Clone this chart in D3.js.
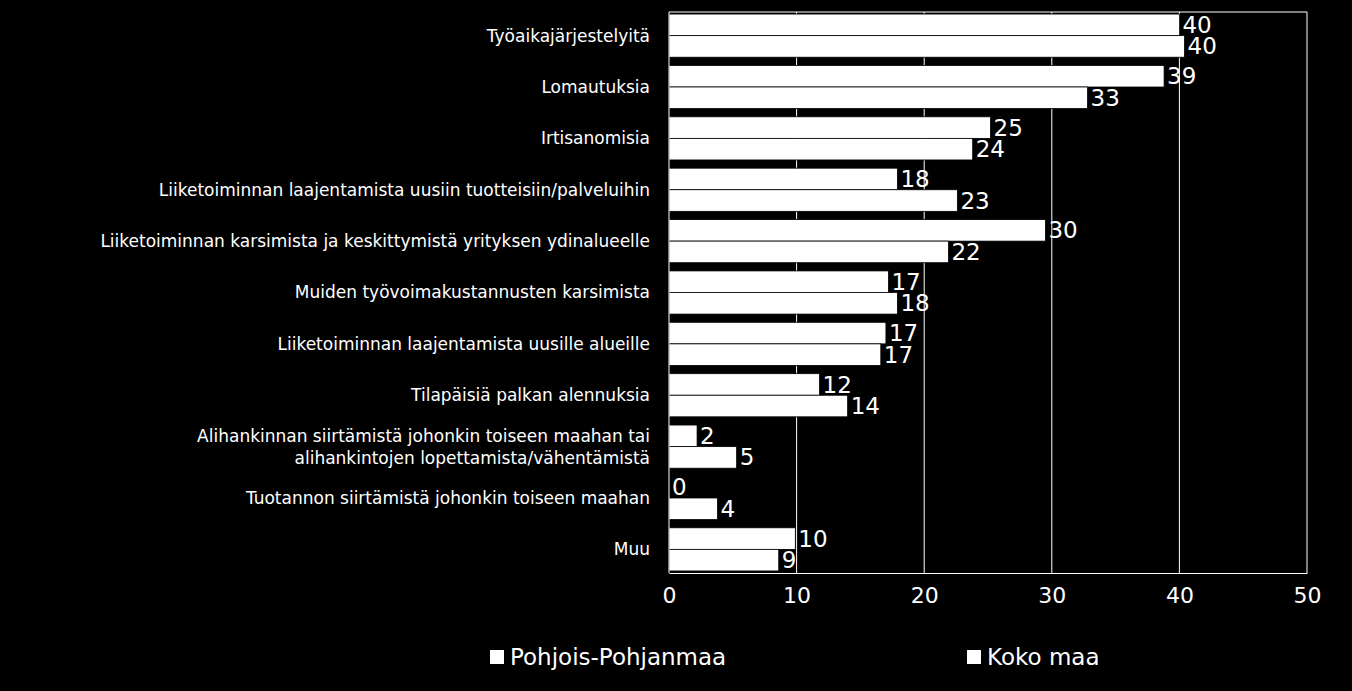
<!DOCTYPE html>
<html><head><meta charset="utf-8">
<script src="https://cdn.jsdelivr.net/npm/d3@7"></script>
<style>body{margin:0;background:#000}svg{display:block}</style></head>
<body><svg id="c" width="1352" height="691"></svg>
<script>
const categories = ["Työaikajärjestelyitä","Lomautuksia","Irtisanomisia",
"Liiketoiminnan laajentamista uusiin tuotteisiin/palveluihin",
"Liiketoiminnan karsimista ja keskittymistä yrityksen ydinalueelle",
"Muiden työvoimakustannusten karsimista",
"Liiketoiminnan laajentamista uusille alueille",
"Tilapäisiä palkan alennuksia",
"Alihankinnan siirtämistä johonkin toiseen maahan tai\nalihankintojen lopettamista/vähentämistä",
"Tuotannon siirtämistä johonkin toiseen maahan","Muu"];
const seriesNames = ["Pohjois-Pohjanmaa","Koko maa"];
const pohjois = [40.0,38.8,25.2,17.9,29.5,17.2,17.0,11.8,2.2,0,9.9];
const kokoMaa = [40.4,32.8,23.8,22.6,21.9,17.9,16.6,14.0,5.3,3.8,8.6];
const ticks = [0,10,20,30,40,50];

const svg = d3.select("#c");
const L=669,R=1307,T=12,B=573;
const x = d3.scaleLinear().domain([0,50]).range([L,R]);
const y = d3.scaleBand().domain(categories).range([T,B]).paddingInner(0.16).paddingOuter(0.04);
const sub = d3.scaleBand().domain([0,1]).range([0,y.bandwidth()]);
const font="DejaVu Sans, sans-serif";

svg.append("g").selectAll("line").data(ticks.slice(1)).join("line")
 .attr("x1",d=>x(d)).attr("x2",d=>x(d)).attr("y1",T).attr("y2",B).attr("stroke","#fff").attr("stroke-width",1);
svg.append("line").attr("x1",L).attr("x2",R).attr("y1",T).attr("y2",T).attr("stroke","#fff");

[pohjois,kokoMaa].forEach((vals,si)=>{
  const g=svg.append("g");
  g.selectAll("rect").data(vals).join("rect")
   .attr("x",x(0)).attr("y",(d,i)=>y(categories[i])+sub(si))
   .attr("width",d=>x(d)-x(0)).attr("height",sub.bandwidth())
   .attr("fill","#fff").attr("stroke","#000").attr("stroke-width",0.8);
  g.selectAll("text").data(vals).join("text")
   .attr("x",d=>x(d)+3).attr("y",(d,i)=>y(categories[i])+sub(si)+sub.bandwidth()/2)
   .attr("dy","0.35em").attr("fill","#fff").attr("font-family",font).attr("font-size",23)
   .text(d=>Math.round(d));
});
svg.append("line").attr("x1",L).attr("x2",L).attr("y1",T).attr("y2",B).attr("stroke","#fff");

categories.forEach(c=>{
  const lines=c.split("\n");
  const cy=y(c)+y.bandwidth()/2 - (lines.length-1)*11;
  const t=svg.append("text").attr("text-anchor","end").attr("fill","#fff")
    .attr("font-family",font).attr("font-size",17);
  lines.forEach((ln,k)=>t.append("tspan").attr("x",650).attr("y",cy+k*22).attr("dy","0.35em").text(ln));
});

const ax=svg.append("g").attr("transform",`translate(0,${B})`)
 .call(d3.axisBottom(x).tickValues(ticks).tickSize(0).tickPadding(14));
ax.select(".domain").attr("stroke","#fff");
ax.selectAll("text").attr("fill","#fff").attr("font-family",font).attr("font-size",22);

const leg=[[490,seriesNames[0]],[967,seriesNames[1]]];
leg.forEach(([lx,name])=>{
  svg.append("rect").attr("x",lx).attr("y",650).attr("width",14).attr("height",14).attr("fill","#fff");
  svg.append("text").attr("x",lx+20).attr("y",657).attr("dy","0.35em").attr("fill","#fff")
   .attr("font-family",font).attr("font-size",23).text(name);
});
</script></body></html>
